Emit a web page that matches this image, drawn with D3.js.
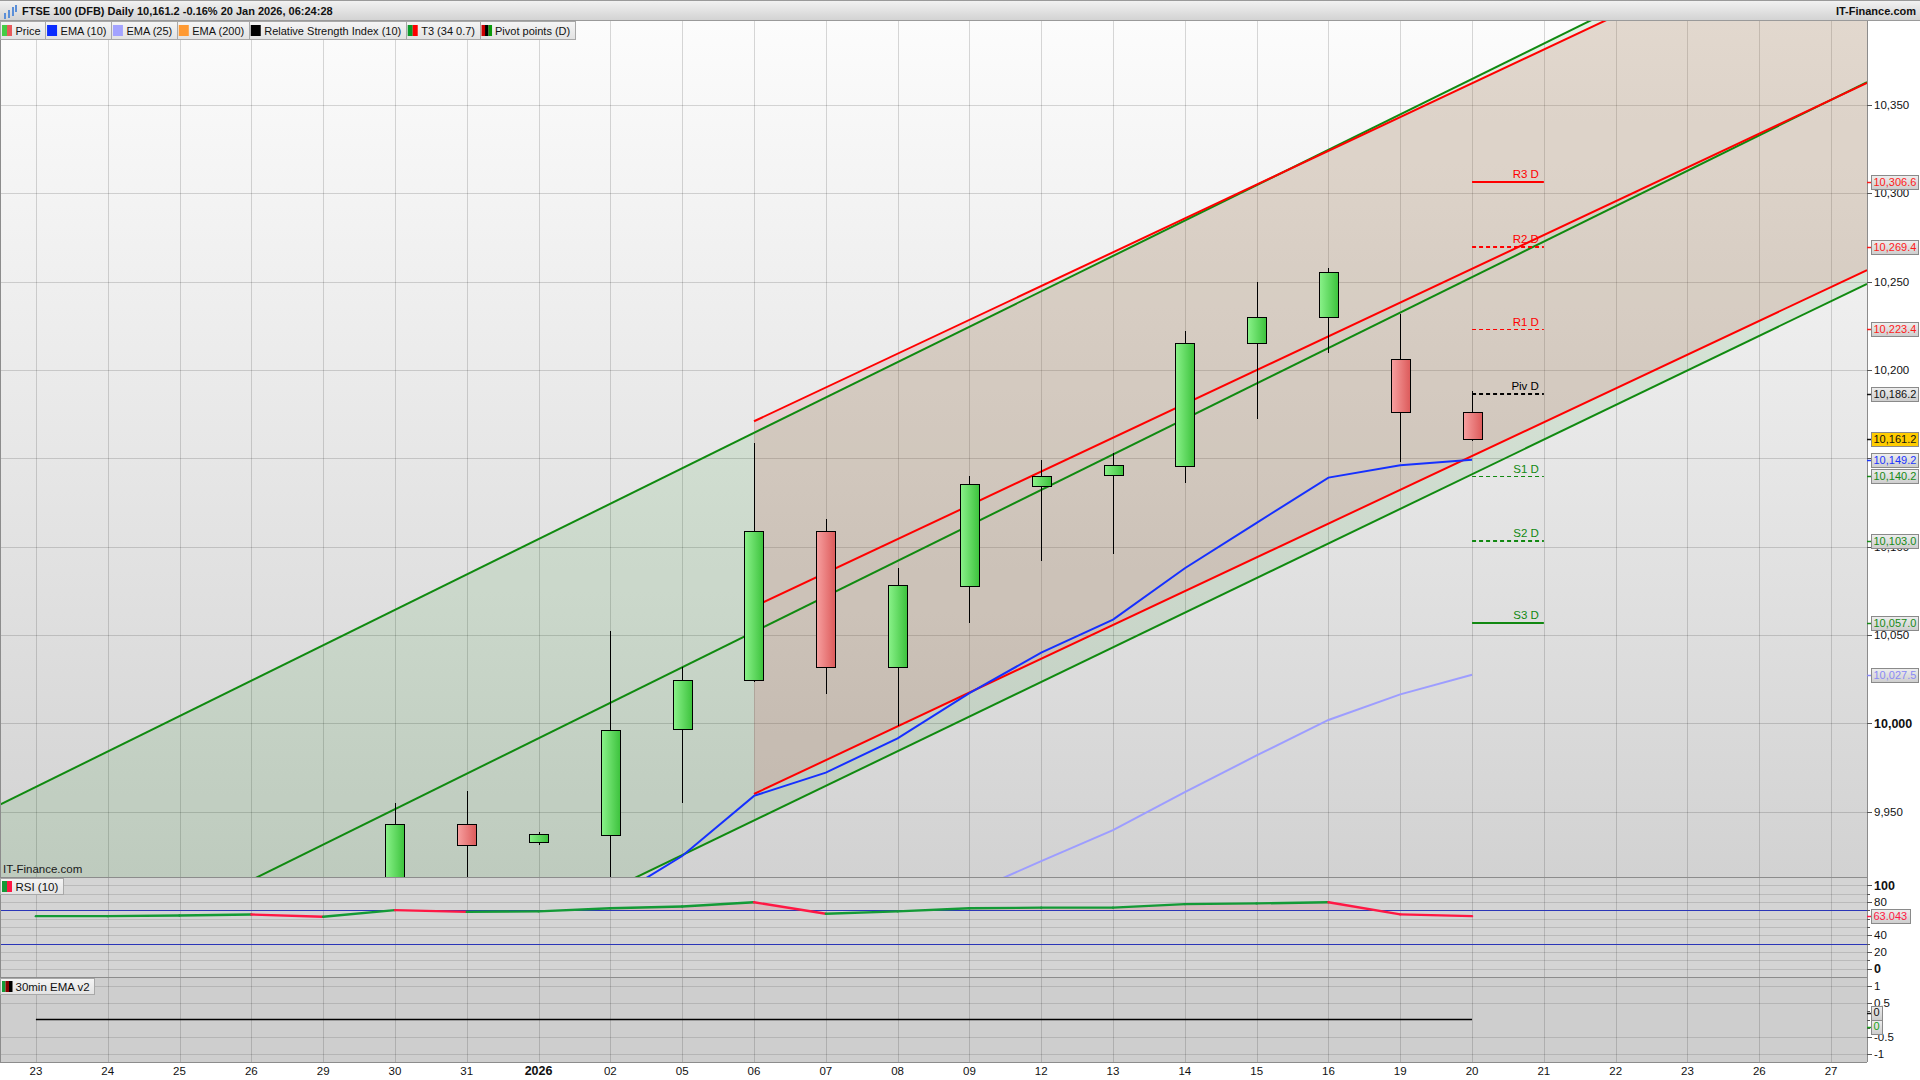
<!DOCTYPE html>
<html><head><meta charset="utf-8"><title>FTSE 100 (DFB) Daily</title>
<script src="https://cdn.jsdelivr.net/npm/d3@7/dist/d3.min.js"></script>
<style>html,body{margin:0;padding:0;background:#fff;overflow:hidden}svg{display:block}</style>
</head><body>
<svg id="chart" width="1920" height="1080" font-family="'Liberation Sans', Arial, Helvetica, sans-serif"></svg>
<script>
// ---------------- data ----------------
const titleText = "FTSE 100 (DFB) Daily 10,161.2 -0.16% 20 Jan 2026, 06:24:28";
const dates = ["2025-12-23","2025-12-24","2025-12-25","2025-12-26","2025-12-29","2025-12-30","2025-12-31","2026-01-01","2026-01-02","2026-01-05","2026-01-06","2026-01-07","2026-01-08","2026-01-09","2026-01-12","2026-01-13","2026-01-14","2026-01-15","2026-01-16","2026-01-19","2026-01-20","2026-01-21","2026-01-22","2026-01-23","2026-01-26","2026-01-27"];
const tickLabels = ["23","24","25","26","29","30","31","2026","02","05","06","07","08","09","12","13","14","15","16","19","20","21","22","23","26","27"];

const candleDates = ["2025-12-30","2025-12-31","2026-01-01","2026-01-02","2026-01-05","2026-01-06","2026-01-07","2026-01-08","2026-01-09","2026-01-12","2026-01-13","2026-01-14","2026-01-15","2026-01-16","2026-01-19","2026-01-20"];
const openVals  = [9897, 9943, 9932.6, 9936.7, 9997, 10024.1, 10108.6, 10031.7, 10078.1, 10134.3, 10140.5, 10146, 10215.4, 10229.9, 10206.4, 10176.5];
const highVals  = [9954.8, 9961.7, 9938.5, 10052.5, 10031.7, 10158.5, 10115.5, 10087.8, 10139.8, 10148.8, 10153, 10222.3, 10250, 10257.6, 10232, 10188.3];
const lowVals   = [9888, 9900, 9931, 9905, 9954.8, 10023.4, 10016.4, 9998.4, 10056.6, 10092, 10096.1, 10136.3, 10172.4, 10209.8, 10148.1, 10159.9];
const closeVals = [9943, 9931.2, 9937.4, 9996.3, 10024.8, 10108.6, 10031.7, 10078.1, 10135.7, 10139.8, 10146, 10215.4, 10229.9, 10255.6, 10176.5, 10161.2];

const ema10Dates = ["2026-01-02","2026-01-05","2026-01-06","2026-01-07","2026-01-08","2026-01-09","2026-01-12","2026-01-13","2026-01-14","2026-01-15","2026-01-16","2026-01-19","2026-01-20"];
const ema10Vals  = [9900, 9924.9, 9958.9, 9972.1, 9991.5, 10017.1, 10040.0, 10058.7, 10087.8, 10113.5, 10139.1, 10146.1, 10149.2];
const ema25Dates = ["2026-01-09","2026-01-12","2026-01-13","2026-01-14","2026-01-15","2026-01-16","2026-01-19","2026-01-20"];
const ema25Vals  = [9904, 9922, 9939.5, 9961.0, 9981.8, 10001.9, 10016.4, 10027.5];

// T3 channels (straight lines, given at two dates)
const t3GreenDates  = ["2025-12-23","2026-01-27"];
const t3GreenUpper  = [9964, 10465];
const t3GreenMiddle = [9851, 10353];
const t3GreenLower  = [9749, 10239];
const t3RedDates    = ["2026-01-06","2026-01-27"];
const t3RedUpper    = [10171, 10458];
const t3RedMiddle   = [10066, 10353];
const t3RedLower    = [9960, 10247];

// Daily pivot points
const pivotNames  = ["R3 D","R2 D","R1 D","Piv D","S1 D","S2 D","S3 D"];
const pivotValues = [10306.6, 10269.4, 10223.4, 10186.2, 10140.2, 10103.0, 10057.0];
const pivotDates  = ["2026-01-20","2026-01-21"];

// RSI (10)
const rsiDates = ["2025-12-23","2025-12-24","2025-12-25","2025-12-26","2025-12-29","2025-12-30","2025-12-31","2026-01-01","2026-01-02","2026-01-05","2026-01-06","2026-01-07","2026-01-08","2026-01-09","2026-01-12","2026-01-13","2026-01-14","2026-01-15","2026-01-16","2026-01-19","2026-01-20"];
const rsiVals  = [63, 63, 63.8, 65, 62.3, 70.3, 68.1, 68.8, 72.5, 74.6, 79.7, 65.9, 68.8, 72.5, 73.2, 73.2, 77.5, 78.3, 79.7, 65.2, 63.043];
const rsiLevels = [70, 30];

// 30min EMA v2
const emaV2Vals = [0,0,0,0,0,0,0,0,0,0,0,0,0,0,0,0,0,0,0,0,0];
const emaV2Last = [0, 0];

const mainTicks = [9950, 10000, 10050, 10100, 10150, 10200, 10250, 10300, 10350];
const rsiTicks = [100, 80, 40, 20, 0];
const emaV2Ticks = [1, 0.5, -0.5, -1];

const legendNames = ["Price","EMA (10)","EMA (25)","EMA (200)","Relative Strength Index (10)","T3 (34 0.7)","Pivot points (D)"];
const legendIcons = [["#44cc44","#e85a5a"],["#0a2cff"],["#a3a3ff"],["#ff9a33"],["#000000"],["#0a9a2a","#ff0000"],["#cc0000","#000000","#0a9a0a"]];

// ---------------- layout ----------------
const PR = 1867, MT = 21, MB = 877, RB = 977, EB = 1062;
const C_GREEN = "#108a10", C_RED = "#ff0000";

const svg = d3.select("#chart");
const defs = svg.append("defs");
function grad(id, c0, c1, horiz){
  const g = defs.append("linearGradient").attr("id", id)
    .attr("x1",0).attr("y1",0).attr("x2", horiz?1:0).attr("y2", horiz?0:1);
  g.append("stop").attr("offset","0%").attr("stop-color",c0);
  g.append("stop").attr("offset","100%").attr("stop-color",c1);
}
grad("gMain","#fcfcfc","#d2d2d2");
grad("gHead","#f3f3f3","#d3d3d3");
grad("gBox","#eeeeee","#cdcdcd");
grad("gBtn","#f5f5f5","#e2e2e2");
grad("gUp","#8af28a","#3cc23c",true);
grad("gDn","#f7a0a0","#dc5a5a",true);
function clip(id,x,y,w,h){ defs.append("clipPath").attr("id",id).append("rect").attr("x",x).attr("y",y).attr("width",w).attr("height",h); }
clip("cMain",0,MT,PR,MB-MT); clip("cRsi",0,MB,PR,RB-MB); clip("cEma",0,RB,PR,EB-RB);

const x = d3.scaleBand().domain(dates).range([0, PR]).padding(0);
const xi = d3.scaleLinear().domain([-0.5, dates.length - 0.5]).range([0, PR]);
const cx = d => x(d) + x.bandwidth()/2;
const idx = d => dates.indexOf(d);
const yMain = d3.scaleLinear().domain([9913, 10397.6]).range([MB, MT]);
const yRsi = d3.scaleLinear().domain([-10, 110]).range([RB, MB]);
const yEma = d3.scaleLinear().domain([-1.25, 1.25]).range([EB, RB]);

// panel backgrounds
svg.append("rect").attr("x",0).attr("y",MT).attr("width",PR).attr("height",MB-MT).attr("fill","url(#gMain)");
svg.append("rect").attr("x",0).attr("y",MB).attr("width",PR).attr("height",RB-MB).attr("fill","#d4d4d4");
svg.append("rect").attr("x",0).attr("y",RB).attr("width",PR).attr("height",EB-RB).attr("fill","#cecece");

// grid
const grid = svg.append("g").attr("shape-rendering","crispEdges").attr("stroke","rgba(0,0,0,0.15)");
grid.selectAll("line.v").data(dates).join("line").attr("x1",d=>Math.round(cx(d))+0.5).attr("x2",d=>Math.round(cx(d))+0.5).attr("y1",MT).attr("y2",EB);
grid.selectAll("line.h").data(mainTicks).join("line").attr("x1",0).attr("x2",PR).attr("y1",d=>Math.round(yMain(d))+0.5).attr("y2",d=>Math.round(yMain(d))+0.5);
grid.selectAll("line.r").data(d3.range(0,101,10)).join("line").attr("x1",0).attr("x2",PR).attr("y1",d=>Math.round(yRsi(d))+0.5).attr("y2",d=>Math.round(yRsi(d))+0.5).attr("stroke","rgba(0,0,0,0.12)");
grid.selectAll("line.e").data([1,0.5,-0.5,-1]).join("line").attr("x1",0).attr("x2",PR).attr("y1",d=>Math.round(yEma(d))+0.5).attr("y2",d=>Math.round(yEma(d))+0.5).attr("stroke","rgba(0,0,0,0.12)");

// ---------- main panel ----------
const main = svg.append("g").attr("clip-path","url(#cMain)");
function lineAt(dArr, vArr, i){ const i0 = idx(dArr[0]), i1 = idx(dArr[1]); return vArr[0] + (vArr[1]-vArr[0])*(i - i0)/(i1 - i0); }
const gSpan = [-0.5, dates.length - 0.5];
const rSpan = [idx(t3RedDates[0]), dates.length - 0.5];
const area = d3.area().x(d=>xi(d.i)).y0(d=>yMain(d.lo)).y1(d=>yMain(d.hi));
main.append("path").attr("fill","rgba(0,140,0,0.095)")
  .attr("d", area(gSpan.map(i=>({i, lo:lineAt(t3GreenDates,t3GreenLower,i), hi:lineAt(t3GreenDates,t3GreenUpper,i)}))));
main.append("path").attr("fill","rgba(215,76,81,0.15)")
  .attr("d", area(rSpan.map(i=>({i, lo:lineAt(t3RedDates,t3RedLower,i), hi:lineAt(t3RedDates,t3RedUpper,i)}))));
const ln = d3.line().x(d=>xi(d.i)).y(d=>yMain(d.v));
[[t3GreenDates,t3GreenUpper,gSpan,C_GREEN],[t3GreenDates,t3GreenMiddle,gSpan,C_GREEN],[t3GreenDates,t3GreenLower,gSpan,C_GREEN],
 [t3RedDates,t3RedUpper,rSpan,C_RED],[t3RedDates,t3RedMiddle,rSpan,C_RED],[t3RedDates,t3RedLower,rSpan,C_RED]].forEach(([dA,vA,span,col])=>{
  main.append("path").attr("fill","none").attr("stroke",col).attr("stroke-width",2)
    .attr("d", ln(span.map(i=>({i, v:lineAt(dA,vA,i)}))));
});

// EMA lines
const lnD = d3.line().x(d=>cx(d.d)).y(d=>yMain(d.v));
main.append("path").attr("fill","none").attr("stroke","#9d9dff").attr("stroke-width",2)
  .attr("d", lnD(ema25Dates.map((d,i)=>({d, v:ema25Vals[i]}))));
main.append("path").attr("fill","none").attr("stroke","#1530ff").attr("stroke-width",2)
  .attr("d", lnD(ema10Dates.map((d,i)=>({d, v:ema10Vals[i]}))));

// pivot lines
const pivStyle = [
  {c:"#ff0000", w:2, dash:null},
  {c:"#ff0000", w:2, dash:"4,3"},
  {c:"#ff0000", w:1, dash:"4,3"},
  {c:"#000000", w:2, dash:"4,3"},
  {c:"#118811", w:1, dash:"4,3"},
  {c:"#118811", w:2, dash:"4,3"},
  {c:"#118811", w:2, dash:null}
];
const pv = main.append("g");
pivotValues.forEach((v,i)=>{
  const y = Math.round(yMain(v)) + (pivStyle[i].w===1?0.5:0);
  pv.append("line").attr("x1",cx(pivotDates[0])).attr("x2",cx(pivotDates[1])).attr("y1",y).attr("y2",y)
    .attr("stroke",pivStyle[i].c).attr("stroke-width",pivStyle[i].w).attr("stroke-dasharray",pivStyle[i].dash);
  pv.append("text").attr("x",cx(pivotDates[1])-5).attr("y",y-4).attr("text-anchor","end")
    .attr("font-size",11.5).attr("fill",pivStyle[i].c).text(pivotNames[i]);
});

// candles
const bw = Math.round(x.bandwidth()*0.26);
const cg = main.append("g").attr("shape-rendering","crispEdges");
candleDates.forEach((d,i)=>{
  const o=openVals[i], h=highVals[i], l=lowVals[i], c=closeVals[i];
  const xc = Math.round(cx(d)) + 0.5;
  cg.append("line").attr("x1",xc).attr("x2",xc).attr("y1",yMain(h)).attr("y2",yMain(l)).attr("stroke","#000");
  const top = yMain(Math.max(o,c)), bot = yMain(Math.min(o,c));
  cg.append("rect").attr("x",Math.round(cx(d)-bw/2)+0.5).attr("y",Math.round(top)+0.5)
    .attr("width",bw).attr("height",Math.max(1,Math.round(bot-top)))
    .attr("fill", c>=o ? "url(#gUp)" : "url(#gDn)").attr("stroke","#000");
});

svg.append("text").attr("x",3).attr("y",MB-4).attr("font-size",11.5).attr("fill","#1a1a1a").text("IT-Finance.com");

// ---------- RSI panel ----------
const rsi = svg.append("g").attr("clip-path","url(#cRsi)");
defs.append("clipPath").attr("id","cAbove70").append("rect").attr("x",0).attr("y",MB).attr("width",PR).attr("height",yRsi(rsiLevels[0])-MB);
rsi.append("path").attr("clip-path","url(#cAbove70)").attr("fill","rgba(230,70,90,0.16)")
  .attr("d", d3.area().x(d=>cx(d.d)).y0(yRsi(rsiLevels[0])).y1(d=>yRsi(d.v))(rsiDates.map((d,i)=>({d,v:rsiVals[i]}))));
rsiLevels.forEach(l=>{
  rsi.append("line").attr("x1",0).attr("x2",PR).attr("y1",Math.round(yRsi(l))+0.5).attr("y2",Math.round(yRsi(l))+0.5)
    .attr("stroke","#2a35b8").attr("stroke-width",1.2);
});
for(let i=1;i<rsiDates.length;i++){
  rsi.append("line").attr("x1",cx(rsiDates[i-1])).attr("y1",yRsi(rsiVals[i-1])).attr("x2",cx(rsiDates[i])).attr("y2",yRsi(rsiVals[i]))
    .attr("stroke", rsiVals[i]>=rsiVals[i-1] ? "#139a36" : "#ff1744").attr("stroke-width",2.4).attr("stroke-linecap","round");
}

// ---------- 30min EMA v2 panel ----------
const emp = svg.append("g").attr("clip-path","url(#cEma)");
emp.append("path").attr("fill","none").attr("stroke","#000").attr("stroke-width",1.6)
  .attr("d", d3.line().x(d=>cx(d.d)).y(d=>yEma(d.v))(rsiDates.map((d,i)=>({d,v:emaV2Vals[i]}))));

// ---------- frames ----------
const fr = svg.append("g").attr("stroke","#8c8c8c").attr("shape-rendering","crispEdges");
[MB, RB, EB].forEach(y=>fr.append("line").attr("x1",0).attr("x2",PR).attr("y1",y+0.5).attr("y2",y+0.5).attr("stroke-width",1.5));
fr.append("line").attr("x1",PR+0.5).attr("x2",PR+0.5).attr("y1",MT).attr("y2",EB).attr("stroke-width",1.5);
fr.append("line").attr("x1",0.5).attr("x2",0.5).attr("y1",MT).attr("y2",EB);

// ---------- right axes ----------
const fmtV = d3.format(",.1f");
const boxVals = pivotValues.concat([ema25Vals[ema25Vals.length-1], ema10Vals[ema10Vals.length-1], closeVals[closeVals.length-1]]);
const ax = svg.append("g");
function tick(y, label, bold, showLabel){
  ax.append("line").attr("x1",PR).attr("x2",PR+5).attr("y1",Math.round(y)+0.5).attr("y2",Math.round(y)+0.5).attr("stroke","#555").attr("shape-rendering","crispEdges");
  if(showLabel===false) return;
  ax.append("text").attr("x",PR+7).attr("y",y).attr("dy","0.35em").attr("font-size",bold?12.5:11.5).attr("font-weight",bold?"bold":"normal").attr("fill","#111").text(label);
}
const fmtTick = d3.format(",");
// a tick label hidden under a value box is not drawn (it is covered in the reference)
mainTicks.forEach(v=>tick(yMain(v), fmtTick(v), v%1000===0, !boxVals.some(b=>Math.abs(yMain(b)-yMain(v))<4)));
d3.range(0,101,10).forEach(v=>{ if(rsiTicks.indexOf(v)<0) ax.append("line").attr("x1",PR).attr("x2",PR+3).attr("y1",Math.round(yRsi(v))+0.5).attr("y2",Math.round(yRsi(v))+0.5).attr("stroke","#555"); });
rsiTicks.forEach(v=>tick(yRsi(v), String(v), v===100||v===0));
[0.25,0,-0.25].forEach(v=>ax.append("line").attr("x1",PR).attr("x2",PR+3).attr("y1",Math.round(yEma(v))+0.5).attr("y2",Math.round(yEma(v))+0.5).attr("stroke","#555"));
emaV2Ticks.forEach(v=>tick(yEma(v), String(v), false));

function valueBox(y, text, color, fill, w){
  ax.append("line").attr("x1",PR).attr("x2",PR+5).attr("y1",Math.round(y)+0.5).attr("y2",Math.round(y)+0.5).attr("stroke",color).attr("stroke-width",1.5);
  ax.append("rect").attr("x",PR+4.5).attr("y",Math.round(y-7)+0.5).attr("width",w).attr("height",14)
    .attr("fill",fill).attr("stroke","#8a8a8a").attr("shape-rendering","crispEdges");
  ax.append("text").attr("x",PR+6.5).attr("y",y).attr("dy","0.36em").attr("font-size",11).attr("fill",color).text(text);
}
const pivColors = ["#ff1a1a","#ff1a1a","#ff1a1a","#111111","#178a17","#178a17","#178a17"];
pivotValues.forEach((v,i)=>valueBox(yMain(v), fmtV(v), pivColors[i], "url(#gBox)", 47));
valueBox(yMain(ema25Vals[ema25Vals.length-1]), fmtV(ema25Vals[ema25Vals.length-1]), "#8a8af5", "url(#gBox)", 47);
valueBox(yMain(ema10Vals[ema10Vals.length-1]), fmtV(ema10Vals[ema10Vals.length-1]), "#1a35ff", "url(#gBox)", 47);
valueBox(yMain(closeVals[closeVals.length-1]), fmtV(closeVals[closeVals.length-1]), "#111111", "#ffcc00", 47);
valueBox(yRsi(rsiVals[rsiVals.length-1]), d3.format(".3f")(rsiVals[rsiVals.length-1]), "#ff1744", "url(#gBox)", 39);
valueBox(yEma(emaV2Last[0]) - 7, String(emaV2Last[0]), "#111111", "url(#gBox)", 11);
valueBox(yEma(emaV2Last[1]) + 7, String(emaV2Last[1]), "#19a019", "url(#gBox)", 11);

// ---------- bottom axis ----------
const bx = svg.append("g");
dates.forEach((d,i)=>{
  const isYear = tickLabels[i].length===4;
  bx.append("text").attr("x",cx(d)).attr("y",1075).attr("text-anchor","middle")
    .attr("font-size",isYear?12.5:11.5).attr("font-weight",isYear?"bold":"normal").attr("fill","#111").text(tickLabels[i]);
});

// ---------- header ----------
const hd = svg.append("g");
hd.append("rect").attr("x",0).attr("y",0).attr("width",1920).attr("height",20).attr("fill","url(#gHead)");
hd.append("line").attr("x1",0).attr("x2",1920).attr("y1",0.5).attr("y2",0.5).attr("stroke","#9a9a9a");
hd.append("line").attr("x1",0).attr("x2",1920).attr("y1",20.5).attr("y2",20.5).attr("stroke","#9a9a9a");
[[4,10,2,6],[8,7,2,8],[12,4,2,9],[15,2,2,7]].forEach(r=>hd.append("rect").attr("x",r[0]).attr("y",r[1]+3).attr("width",r[2]).attr("height",r[3]).attr("fill","#5b8fd8"));
hd.append("text").attr("x",22).attr("y",15).attr("font-size",11).attr("font-weight","bold").attr("fill","#111").text(titleText);
hd.append("text").attr("x",1916).attr("y",15).attr("text-anchor","end").attr("font-size",11).attr("font-weight","bold").attr("fill","#111").text("IT-Finance.com");

// legend buttons
function button(gx, gy, h, name, icons, fs){
  const g = svg.append("g");
  const r = g.append("rect").attr("x",gx+0.5).attr("y",gy+0.5).attr("height",h).attr("fill","url(#gBtn)").attr("stroke","#a8a8a8").attr("shape-rendering","crispEdges");
  const sw = icons.length===1 ? 10 : (icons.length===2 ? 5 : 3.5);
  icons.forEach((c,k)=>g.append("rect").attr("x",gx+2+k*sw).attr("y",gy+(h-11)/2+0.5).attr("width",sw).attr("height",11).attr("fill",c));
  const t = g.append("text").attr("x",gx+15.5).attr("y",gy+h/2+1).attr("dy","0.35em").attr("font-size",fs).attr("fill","#111").text(name);
  const w = 15.5 + t.node().getComputedTextLength() + 4.5;
  r.attr("width", w);
  return w;
}
let lx = 0;
legendNames.forEach((n,i)=>{ lx += button(lx, 21, 18, n, legendIcons[i], 11); });
button(0, MB+1, 16, "RSI (10)", ["#139a36","#ff1744"], 11.5);
button(0, RB+1, 16, "30min EMA v2", ["#139a36","#880000","#000000"], 11.5);
</script>
</body></html>
